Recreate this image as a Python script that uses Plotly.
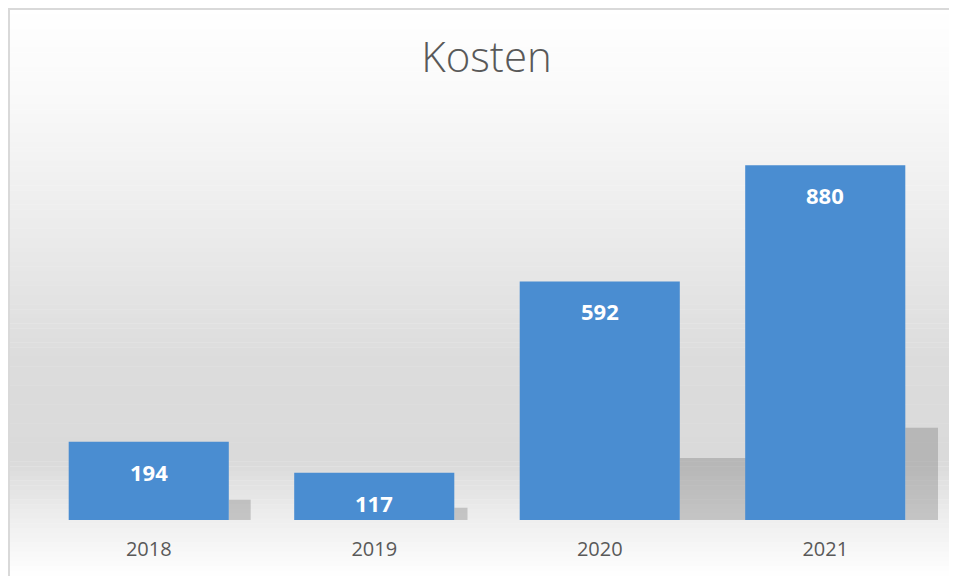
import plotly.graph_objects as go

# Dados do gráfico
jahre = ["2018", "2019", "2020", "2021"]
kosten = [194, 117, 592, 880]

# a página tem margem de 8px no body; a figura ocupa o resto da janela
W, H = 949, 568
ML, MR, MT, MB = 28, 19, 109, 56
pw, ph = W - ML - MR, H - MT - MB

def px(fx):
    return (fx - ML) / pw

def py(fy):
    return (H - MB - fy) / ph

fig = go.Figure()

# sombra das barras (decoração): cresce com a altura da barra
fig.add_trace(go.Bar(
    x=jahre, y=[k * 0.26 for k in kosten],
    width=[k * 0.0005 for k in kosten], offset=0.355,
    marker=dict(color="rgba(110,110,110,0.32)", line=dict(width=0)),
    hoverinfo="skip",
))

fig.add_trace(go.Bar(
    x=jahre, y=kosten,
    width=0.71,
    marker=dict(color="#4a8dd1", line=dict(width=0)),
    hoverinfo="skip",
))

# rótulos de valor dentro das barras (x = índice da categoria)
for i, k in enumerate(kosten):
    fig.add_annotation(x=i, y=k, text=f"<b>{k}</b>", showarrow=False,
                       yshift=-30, yanchor="middle",
                       font=dict(family="Open Sans", size=22, color="white"))

# fundo em gradiente (branco -> cinza -> branco)
stops = [(0.0, 255), (0.15, 250), (0.4, 235), (0.62, 220), (0.8, 218), (0.9, 238), (1.0, 255)]

def cor(t):
    for (t0, c0), (t1, c1) in zip(stops, stops[1:]):
        if t0 <= t <= t1:
            c = c0 + (c1 - c0) * (t - t0) / (t1 - t0)
            return int(round(c))
    return 255

n = 120
top_px, bot_px = -3, H
shapes = []
for i in range(n):
    y0p = top_px + (bot_px - top_px) * i / n
    y1p = top_px + (bot_px - top_px) * (i + 1) / n
    c = cor((i + 0.5) / n)
    shapes.append(dict(
        type="rect", xref="paper", yref="paper", layer="below",
        x0=px(0), x1=px(W + 2),
        y0=py(y1p), y1=py(y0p) + 0.001,
        fillcolor=f"rgb({c},{c},{c})", line=dict(width=0),
    ))
# borda do gráfico
shapes.append(dict(type="line", xref="paper", yref="paper",
                   x0=px(0), x1=px(W + 2), y0=py(1), y1=py(1),
                   line=dict(color="#d9d9d9", width=2)))
shapes.append(dict(type="line", xref="paper", yref="paper",
                   x0=px(1), x1=px(1), y0=py(0), y1=py(H + 2),
                   line=dict(color="#d9d9d9", width=2)))

fig.update_layout(
    width=W, height=H,
    margin=dict(l=ML, r=MR, t=MT, b=MB),
    paper_bgcolor="white",
    plot_bgcolor="rgba(0,0,0,0)",
    shapes=shapes,
    showlegend=False,
    barmode="overlay",
    title=dict(text="Kosten", x=(486.5 - 8) / W, xref="container", xanchor="center",
               y=1 - (57 - 8) / H, yref="container", yanchor="middle",
               font=dict(family="Open Sans", size=42, color="#595959", weight=300)),
    xaxis=dict(type="category", range=[-0.5, 3.5], showgrid=False, showline=False,
               zeroline=False, ticks="", ticklabelstandoff=15, fixedrange=True,
               tickfont=dict(family="Open Sans", size=20, color="#595959")),
    yaxis=dict(range=[0, 1000], visible=False, fixedrange=True),
)

fig.write_html("out.html")
